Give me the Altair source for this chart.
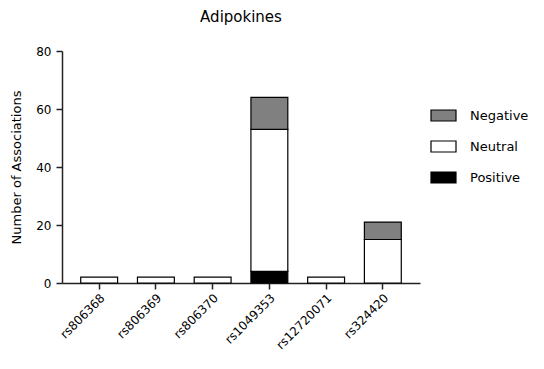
import altair as alt
import pandas as pd

categories = ["rs806368", "rs806369", "rs806370", "rs1049353", "rs12720071", "rs324420"]
positive = [0, 0, 0, 4, 0, 0]
neutral = [2, 2, 2, 49, 2, 15]
negative = [0, 0, 0, 11, 0, 6]
series = ["Negative", "Neutral", "Positive"]
series_colors = ["#808080", "#ffffff", "#000000"]
stack_rank = {"Positive": 0, "Neutral": 1, "Negative": 2}

rows = []
for i, c in enumerate(categories):
    for name, vals in (("Positive", positive), ("Neutral", neutral), ("Negative", negative)):
        if vals[i] > 0:
            rows.append({"snp": c, "type": name, "count": vals[i], "rank": stack_rank[name]})
df = pd.DataFrame(rows)

FONT = "DejaVu Sans"

chart = alt.Chart(df).mark_bar(stroke="#000000", strokeWidth=1.2).encode(
    x=alt.X("snp:N", sort=categories, title=None,
            scale=alt.Scale(paddingInner=0.35, paddingOuter=0.33),
            axis=alt.Axis(labelAngle=315, labelFontSize=12, labelPadding=3, tickSize=6,
                          labelColor="#000000", domainColor="#222222", tickColor="#222222",
                          domainWidth=1.5, tickWidth=1.5, labelFont=FONT)),
    y=alt.Y("count:Q", stack="zero", title="Number of Associations",
            scale=alt.Scale(domain=[0, 80]),
            axis=alt.Axis(values=[0, 20, 40, 60, 80], tickSize=6, labelPadding=5,
                          labelFontSize=12, titleFontSize=13, titleFontWeight="normal",
                          titleColor="#000000", labelColor="#000000", titlePadding=12,
                          domainColor="#222222", tickColor="#222222", domainWidth=1.5,
                          tickWidth=1.5, grid=False, labelFont=FONT, titleFont=FONT)),
    color=alt.Color("type:N", scale=alt.Scale(domain=series, range=series_colors),
                    legend=alt.Legend(title=None, orient="none", legendX=368, legendY=51,
                                      symbolType="M-1,-0.44H1V0.44H-1Z", symbolSize=625,
                                      symbolStrokeColor="#000000", symbolStrokeWidth=1.2,
                                      symbolOpacity=1, labelFontSize=13, labelOffset=13,
                                      rowPadding=9, padding=0, labelFont=FONT,
                                      labelColor="#000000")),
    order=alt.Order("rank:Q", sort="ascending"),
).properties(
    width=358, height=232,
    title=alt.TitleParams("Adipokines", fontSize=15, fontWeight="normal", font=FONT,
                          color="#000000", offset=20),
    autosize=alt.AutoSizeParams(type="none"),
    padding={"left": 54, "top": 43, "right": 116, "bottom": 76},
).configure_view(strokeWidth=0)

chart.save("out.html", embed_options={"renderer": "svg", "actions": False})
